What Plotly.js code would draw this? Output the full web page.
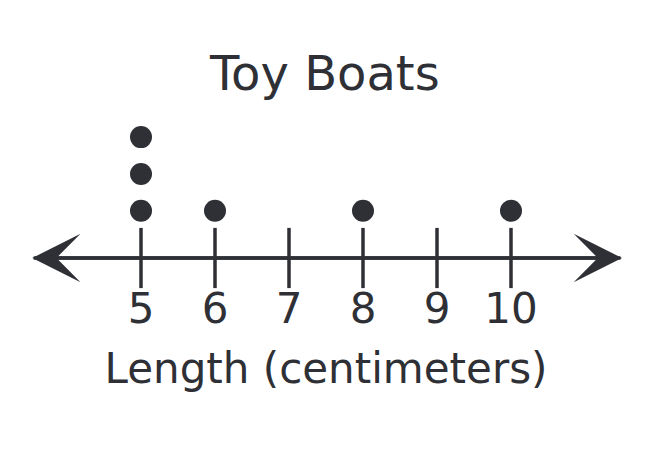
<!DOCTYPE html>
<html>
<head>
<meta charset="utf-8">
<script src="https://cdn.plot.ly/plotly-3.0.1.min.js"></script>
<style>html,body{margin:0;padding:0;background:#fff;}#chart{width:670px;height:462px;}</style>
</head>
<body>
<div id="chart"></div>
<script>
// Data
const chartTitle = "Toy Boats";
const axisTitle = "Length (centimeters)";
const boatLengths = [5, 5, 5, 6, 8, 10];
const tickValues = [5, 6, 7, 8, 9, 10];
const tickLabels = ["5", "6", "7", "8", "9", "10"];
const lineStart = 3.53;
const lineEnd = 11.5;
const lineY = -0.28;

const ink = "#2e3036";
const font = "DejaVu Sans, Verdana, sans-serif";

// stack dots per value
const counts = {};
const dotX = [], dotY = [];
boatLengths.forEach(v => {
  counts[v] = (counts[v] || 0) + 1;
  dotX.push(v);
  dotY.push(counts[v]);
});

const traces = [
  { // tick marks crossing the number line
    x: tickValues, y: tickValues.map(() => lineY),
    type: "scatter", mode: "markers", cliponaxis: false, hoverinfo: "skip",
    marker: { symbol: "line-ns-open", size: 43, color: ink, line: { color: ink, width: 3.5 } }
  },
  { // dots
    x: dotX, y: dotY, type: "scatter", mode: "markers", cliponaxis: false,
    marker: { size: 22, color: ink }
  }
];

const arrowCommon = {
  xref: "x", yref: "y", axref: "x", ayref: "y", text: "", showarrow: true,
  arrowhead: 3, arrowsize: 2.3, arrowwidth: 3.5, arrowcolor: ink
};

const layout = {
  width: 670, height: 462,
  margin: { l: 30, r: 48, t: 114.5, b: 204 },
  paper_bgcolor: "#fff", plot_bgcolor: "#fff",
  showlegend: false,
  font: { family: font, color: ink },
  title: {
    text: chartTitle, font: { size: 48, color: ink, family: font },
    xref: "paper", x: 0.498, xanchor: "center",
    yref: "container", y: 1 - 73 / 462, yanchor: "middle"
  },
  xaxis: {
    range: [3.5, 11.5], showgrid: false, zeroline: false, showline: false,
    ticks: "", tickvals: tickValues, ticktext: tickLabels,
    tickfont: { size: 42, color: ink, family: font },
    ticklabelstandoff: 22,
    title: { text: axisTitle, font: { size: 42, color: ink, family: font }, standoff: 21 },
    fixedrange: true
  },
  yaxis: {
    range: [lineY, 3.6], visible: false, showgrid: false, zeroline: false, fixedrange: true
  },
  annotations: [
    Object.assign({ x: lineStart, y: lineY, ax: lineEnd, ay: lineY }, arrowCommon),
    Object.assign({ x: lineEnd, y: lineY, ax: lineStart, ay: lineY }, arrowCommon)
  ]
};

Plotly.newPlot("chart", traces, layout, { displayModeBar: false, staticPlot: true });
</script>
</body>
</html>
